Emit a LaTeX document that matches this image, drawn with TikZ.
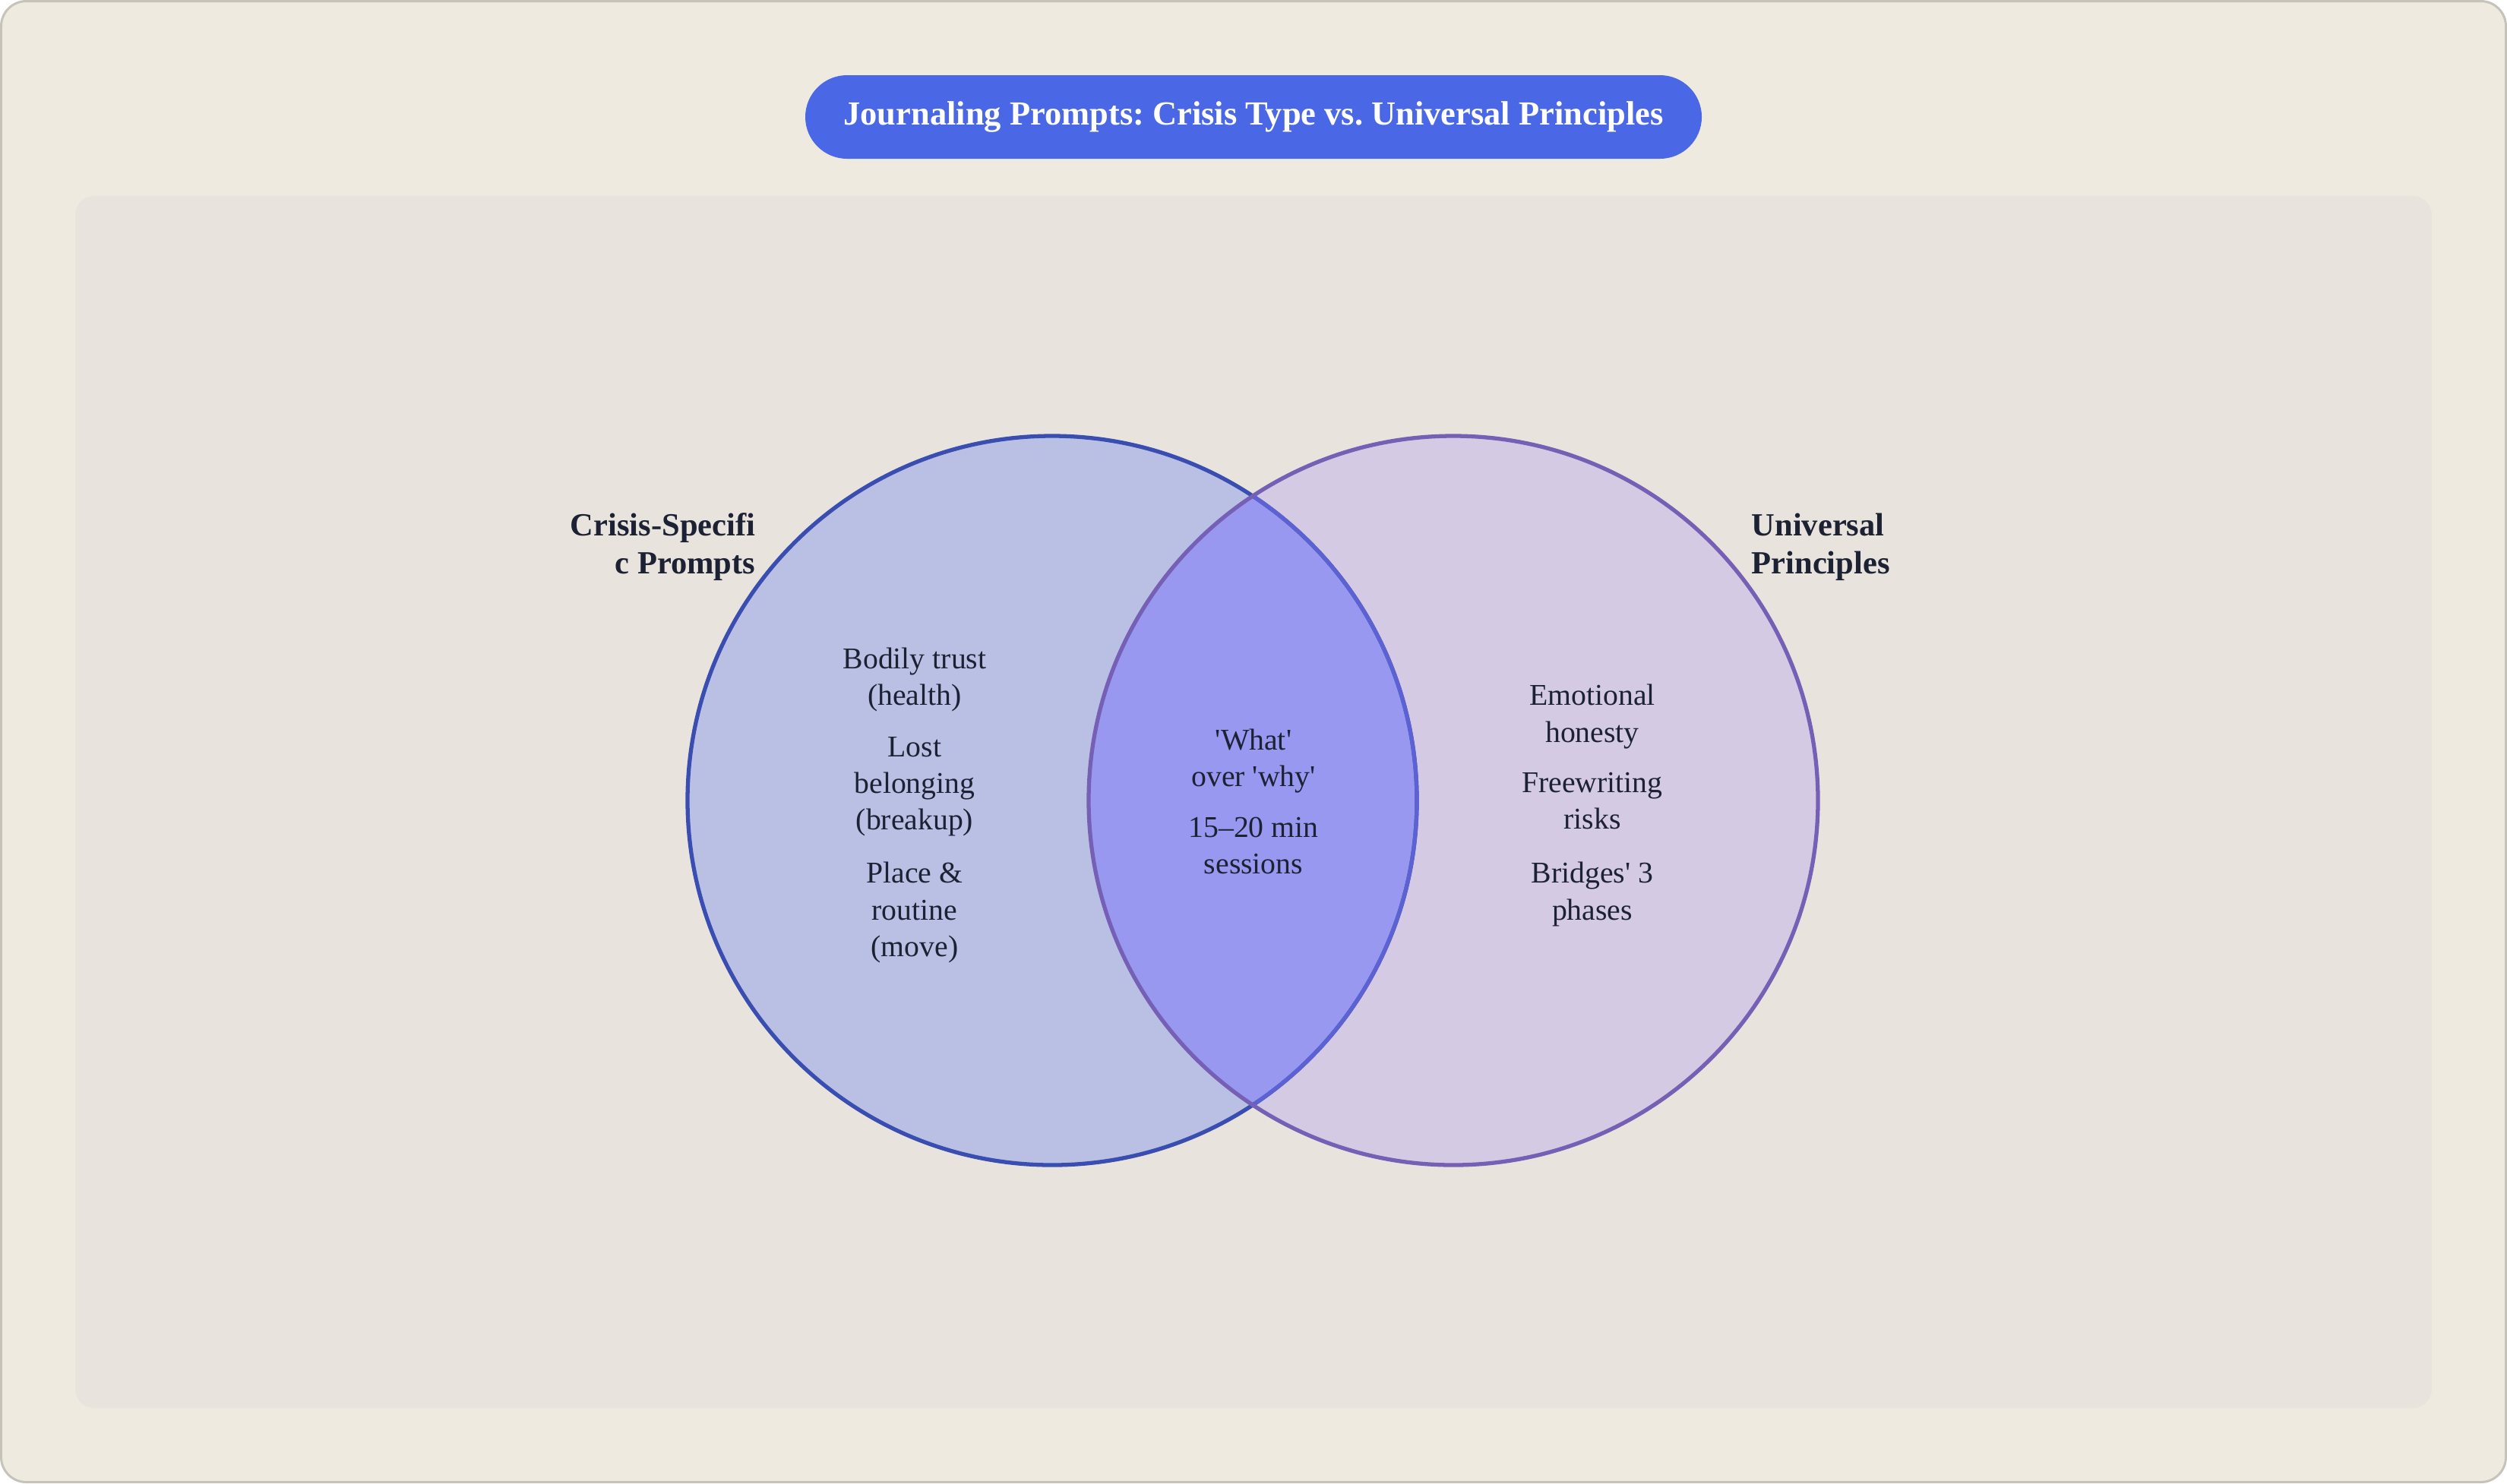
\documentclass[tikz,border=0pt]{standalone}
\usepackage{fontspec}
\setmainfont{Liberation Serif}
\usepackage{tikz}
\usetikzlibrary{calc}
\usepackage{color}
\frenchspacing

\definecolor{pagebg}{HTML}{EEEAE0}
\definecolor{framecol}{HTML}{C6C3BA}
\definecolor{panelbg}{HTML}{E8E4DD}
\definecolor{titlecol}{HTML}{4A67E6}
\definecolor{crisisfill}{HTML}{B9C0E4}
\definecolor{crisisline}{HTML}{3A4DB0}
\definecolor{crisisinner}{HTML}{5C62D2}
\definecolor{univfill}{HTML}{D4CAE3}
\definecolor{univline}{HTML}{7660B5}
\definecolor{bothfill}{HTML}{9898F0}
\definecolor{inkcol}{HTML}{1C2233}
\newcommand{\sq}{\textquotesingle}

\begin{document}
\begin{tikzpicture}
        [auto=left]
            \tikzstyle{every node}=[inner sep=0pt, text=inkcol]
            \tikzstyle{prompt}=[anchor=north, align=center,
        font=\fontsize{11.3}{13.66}\selectfont]
            \tikzstyle{setname}=[anchor=north, font=\bfseries\fontsize{12.1}{14.2}\selectfont]
        \useasboundingbox (0,0) rectangle (33,-19.53);
        %-----frame
        \draw[framecol, line width=0.03cm, fill=pagebg, rounded corners=0.33cm] (0.015,-0.015) rectangle (32.985,-19.515);
        \fill[panelbg, rounded corners=0.25cm] (0.99,-2.58) rectangle (32.01,-18.54);
        \node[fill=titlecol, rounded corners=0.55cm, minimum width=11.8cm, minimum height=1.1cm,
          text=white, font=\bfseries\fontsize{12.65}{15}\selectfont] (title) at (16.5,-1.54)
          {Journaling Prompts: Crisis Type vs. Universal Principles};
        %-----circles
         \coordinate (crisis) at (13.85,-10.54);
         \coordinate (univ) at (19.13,-10.54);
         \fill[crisisfill] (crisis) circle (4.8);
         \fill[univfill] (univ) circle (4.8);
         \begin{scope}
           \clip (crisis) circle (4.8);
           \fill[bothfill] (univ) circle (4.8);
         \end{scope}
         \draw[crisisline, line width=1.5pt] (crisis) circle (4.8);
         \begin{scope}
           \clip (univ) circle (4.8);
           \draw[crisisinner, line width=1.5pt] (crisis) circle (4.8);
         \end{scope}
         \draw[univline, line width=1.5pt] (univ) circle (4.8);
        %-----set names
         \node[setname, anchor=north east, align=right] (CS) at (9.95,-6.75) {Crisis-Specifi\\c Prompts};
         \node[setname, anchor=north west, align=left] (UP) at (23.05,-6.75) {Universal\\Principles};
        %-----left
         \node[prompt] (BT) at (12.04,-8.527) {Bodily trust\\(health)};
         \node[prompt] (LB) at (12.04,-9.697) {Lost\\belonging\\(breakup)};
         \node[prompt] (PR) at (12.04,-11.347) {Place \&\\routine\\(move)};
        %-----middle
         \node[prompt] (WW) at (16.5,-9.597) {\sq What\sq\\over \sq why\sq};
         \node[prompt] (MS) at (16.5,-10.757) {15–20 min\\sessions};
        %-----right
         \node[prompt] (EH) at (20.96,-9.007) {Emotional\\honesty};
         \node[prompt] (FR) at (20.96,-10.167) {Freewriting\\risks};
         \node[prompt] (BP) at (20.96,-11.347) {Bridges\sq{} 3\\phases};
        \end{tikzpicture}
\end{document}
